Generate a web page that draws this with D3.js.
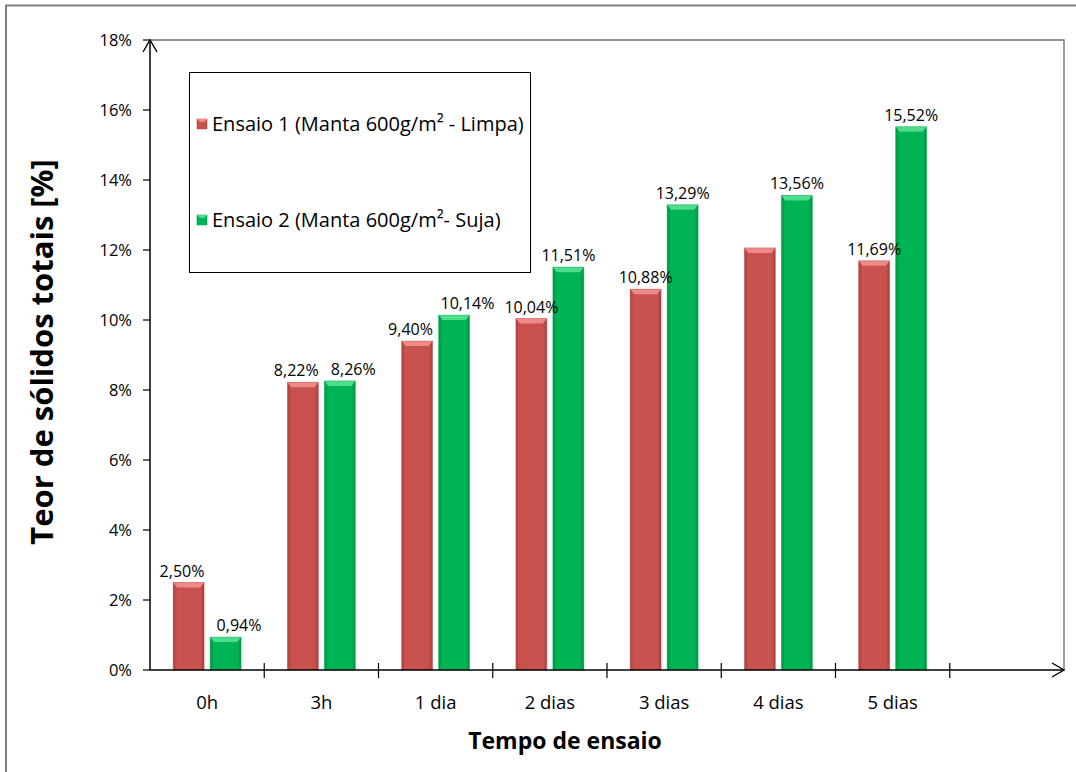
<!DOCTYPE html>
<html>
<head>
<meta charset="utf-8">
<script src="https://cdn.jsdelivr.net/npm/d3@7"></script>
<style>
  html, body { margin: 0; padding: 0; background: #fff; }
  svg { display: block; font-family: "Open Sans", "Lato", sans-serif; }
</style>
</head>
<body>
<svg id="chart" width="1076" height="772"></svg>
<script>
// Tempo de ensaio (the last slot on the axis is left empty)
const categories = ["0h", "3h", "1 dia", "2 dias", "3 dias", "4 dias", "5 dias", ""];
const ensaio1 = [2.50, 8.22, 9.40, 10.04, 10.88, 12.06, 11.69];
const ensaio2 = [0.94, 8.26, 10.14, 11.51, 13.29, 13.56, 15.52];
// which Ensaio 1 values carry a printed label
const ensaio1Labelled = [true, true, true, true, true, false, true];
const yTicks = [0, 2, 4, 6, 8, 10, 12, 14, 16, 18];
const seriesNames = ["Ensaio 1 (Manta 600g/m² - Limpa)", "Ensaio 2 (Manta 600g/m²- Suja)"];

const svg = d3.select("#chart");
const W = 1076, H = 772;
const plot = { left: 150, right: 1064, top: 40, bottom: 670 };

const fmt = v => d3.format(".2f")(v).replace(".", ",") + "%";

const x = d3.scaleBand().domain(d3.range(categories.length))
  .range([plot.left, plot.right]).paddingInner(0).paddingOuter(0);
const y = d3.scaleLinear().domain([0, 18]).range([plot.bottom, plot.top]);

const barW = 31, barGap = 6;
// groups whose two value labels are pushed apart sideways
const spreadGroups = new Set([0, 1, 2]);

// gradients for the bevelled bars
const defs = svg.append("defs");
function barGrad(id, edge, mid) {
  const g = defs.append("linearGradient").attr("id", id).attr("x1", 0).attr("x2", 1).attr("y1", 0).attr("y2", 0);
  g.append("stop").attr("offset", "0%").attr("stop-color", edge);
  g.append("stop").attr("offset", "12%").attr("stop-color", mid);
  g.append("stop").attr("offset", "88%").attr("stop-color", mid);
  g.append("stop").attr("offset", "100%").attr("stop-color", edge);
}
barGrad("gRed", "#a83e3b", "#c9524f");
barGrad("gGreen", "#00913f", "#00b455");

const seriesStyle = [
  { fill: "url(#gRed)", top: "#ee8a87", base: "#c0504d" },
  { fill: "url(#gGreen)", top: "#4fdc8c", base: "#00b050" }
];

// outer chart frame
svg.append("path").attr("d", `M6,${H} V5.5 H${W}`)
  .attr("fill", "none").attr("stroke", "#808080").attr("stroke-width", 2);

// plot area border (top and right)
svg.append("path").attr("d", `M${plot.left},${plot.top} H${plot.right} V${plot.bottom}`)
  .attr("fill", "none").attr("stroke", "#6e6e6e").attr("stroke-width", 1.3);

// bars
function drawBar(g, xPos, val, st) {
  const top = y(val), h = plot.bottom - top;
  g.append("rect").attr("x", xPos).attr("y", top).attr("width", barW).attr("height", h)
    .attr("fill", st.fill);
  const bev = Math.min(5, h / 2);
  g.append("path")
    .attr("d", `M${xPos},${top} H${xPos + barW} L${xPos + barW - 4},${top + bev} H${xPos + 4} Z`)
    .attr("fill", st.top);
  g.append("rect").attr("x", xPos).attr("y", top).attr("width", barW).attr("height", h)
    .attr("fill", "none").attr("stroke", st.base).attr("stroke-opacity", 0.5).attr("stroke-width", 0.8);
}

const barsG = svg.append("g");
const labelG = svg.append("g").attr("font-size", 16).attr("fill", "#000").attr("text-anchor", "middle");

categories.slice(0, ensaio1.length).forEach((c, i) => {
  const cx = x(i) + x.bandwidth() / 2;
  const bx = [cx - barGap / 2 - barW, cx + barGap / 2];
  const vals = [ensaio1[i], ensaio2[i]];
  vals.forEach((v, s) => drawBar(barsG, bx[s], v, seriesStyle[s]));

  // value labels, spread sideways in the crowded groups
  const lx = bx.map(b => b + barW / 2);
  if (spreadGroups.has(i)) {
    const need = 57 - (lx[1] - lx[0]);
    lx[0] -= need * 0.33;
    lx[1] += need * 0.67;
  }
  vals.forEach((v, s) => {
    if (s === 1 || ensaio1Labelled[i]) {
      labelG.append("text").attr("x", lx[s]).attr("y", y(v) - 6).text(fmt(v));
    }
  });
});

// y axis
const yAxisG = svg.append("g");
yAxisG.append("line").attr("x1", plot.left).attr("x2", plot.left).attr("y1", plot.bottom).attr("y2", plot.top)
  .attr("stroke", "#000").attr("stroke-width", 1.5);
yTicks.forEach(t => {
  yAxisG.append("line").attr("x1", plot.left - 7).attr("x2", plot.left).attr("y1", y(t)).attr("y2", y(t))
    .attr("stroke", "#000").attr("stroke-width", 1.2);
  yAxisG.append("text").attr("x", plot.left - 18).attr("y", y(t)).attr("dy", "0.35em")
    .attr("text-anchor", "end").attr("font-size", 16.5).text(t + "%");
});
// arrow at top
yAxisG.append("path").attr("d", `M${plot.left - 7},${plot.top + 12} L${plot.left},${plot.top} L${plot.left + 7},${plot.top + 12}`)
  .attr("fill", "none").attr("stroke", "#000").attr("stroke-width", 1.4);

// x axis
const xAxisG = svg.append("g");
xAxisG.append("line").attr("x1", plot.left).attr("x2", plot.right).attr("y1", plot.bottom).attr("y2", plot.bottom)
  .attr("stroke", "#000").attr("stroke-width", 1.5);
d3.range(1, categories.length).forEach(i => {
  const tx = x(i);
  xAxisG.append("line").attr("x1", tx).attr("x2", tx).attr("y1", plot.bottom - 7).attr("y2", plot.bottom + 8)
    .attr("stroke", "#000").attr("stroke-width", 1.2);
});
categories.forEach((c, i) => {
  xAxisG.append("text").attr("x", x(i) + x.bandwidth() / 2).attr("y", 703).attr("dy", "0.35em")
    .attr("text-anchor", "middle").attr("font-size", 18.5).text(c);
});
xAxisG.append("path").attr("d", `M${plot.right - 12},${plot.bottom - 7} L${plot.right},${plot.bottom} L${plot.right - 12},${plot.bottom + 7}`)
  .attr("fill", "none").attr("stroke", "#000").attr("stroke-width", 1.4);

// axis titles
svg.append("text").attr("x", 565).attr("y", 741).attr("dy", "0.35em").attr("text-anchor", "middle")
  .attr("font-size", 23).attr("font-weight", "bold").text("Tempo de ensaio");
svg.append("text").attr("transform", "translate(42,352) rotate(-90)").attr("dy", "0.35em")
  .attr("text-anchor", "middle").attr("font-size", 31).attr("font-weight", "bold")
  .text("Teor de sólidos totais [%]");

// legend
const leg = svg.append("g");
leg.append("rect").attr("x", 189.5).attr("y", 72.5).attr("width", 341).attr("height", 200)
  .attr("fill", "#fff").attr("stroke", "#000").attr("stroke-width", 1);
const legY = [124, 220];
seriesNames.forEach((name, s) => {
  const ly = legY[s];
  const st = seriesStyle[s];
  leg.append("rect").attr("x", 197).attr("y", ly - 5).attr("width", 10).attr("height", 10).attr("fill", st.fill)
    .attr("stroke", st.base).attr("stroke-width", 0.6);
  leg.append("path").attr("d", `M197,${ly - 5} H207 L204,${ly - 2} H200 Z`).attr("fill", st.top);
  leg.append("text").attr("x", 212).attr("y", ly).attr("dy", "0.35em").attr("font-size", 20).text(name);
});
</script>
</body>
</html>
